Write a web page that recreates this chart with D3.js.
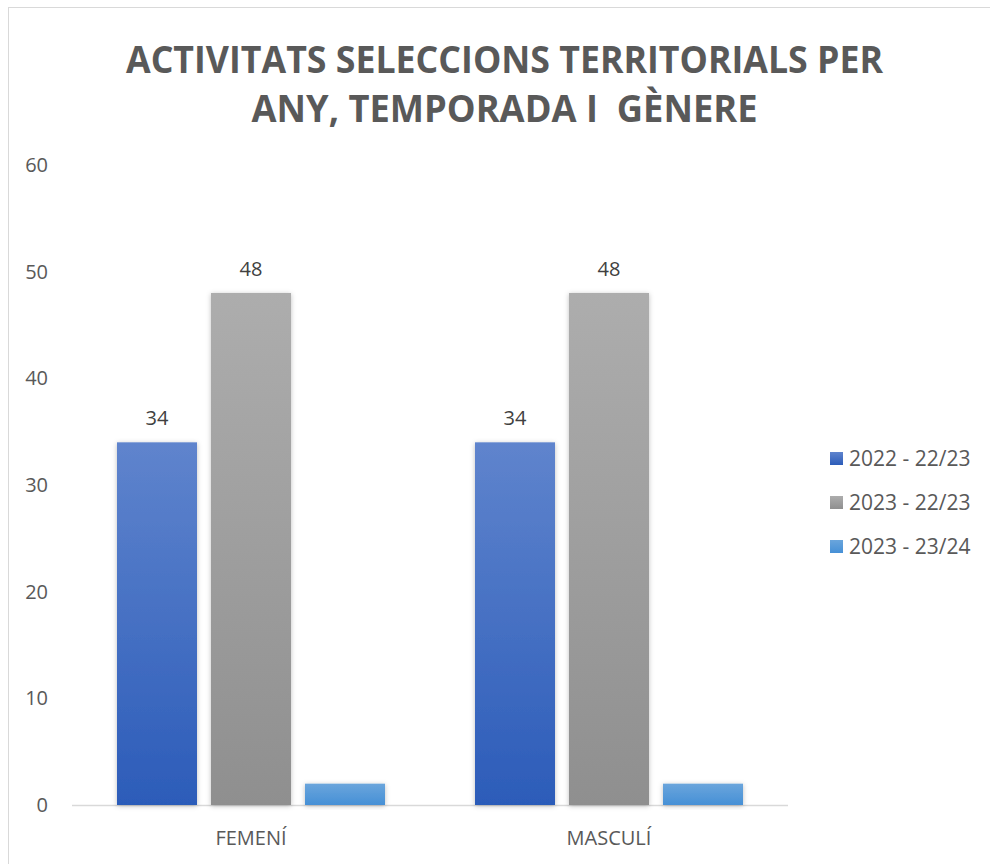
<!DOCTYPE html>
<html><head><meta charset="utf-8">
<script src="https://cdn.jsdelivr.net/npm/d3@7"></script>
<style>body{margin:0;background:#fff}svg{display:block}</style>
</head><body>
<script>
const categories = ["FEMENÍ", "MASCULÍ"];
const seriesNames = ["2022 - 22/23", "2023 - 22/23", "2023 - 23/24"];
const values2022_2223 = [34, 34];
const values2023_2223 = [48, 48];
const values2023_2324 = [2, 2];
const showLabel = [true, true, false];
const yTicks = [0, 10, 20, 30, 40, 50, 60];
const titleLines = ["ACTIVITATS SELECCIONS TERRITORIALS PER", "ANY, TEMPORADA I  GÈNERE"];

const seriesValues = [values2022_2223, values2023_2223, values2023_2324];
const gradients = [["#5f84cd", "#2c5cb9"], ["#adadad", "#8f8f8f"], ["#6aa5dc", "#4690d6"]];

const W = 990, H = 864;
const svg = d3.select("body").append("svg").attr("width", W).attr("height", H);
const defs = svg.append("defs");
gradients.forEach((g, i) => {
  const lg = defs.append("linearGradient").attr("id", "g" + i).attr("x1", 0).attr("y1", 0).attr("x2", 0).attr("y2", 1);
  lg.append("stop").attr("offset", "0%").attr("stop-color", g[0]);
  lg.append("stop").attr("offset", "100%").attr("stop-color", g[1]);
});
const f = defs.append("filter").attr("id", "sh").attr("x", "-20%").attr("y", "-20%").attr("width", "140%").attr("height", "140%");
f.append("feDropShadow").attr("dx", 0).attr("dy", 1).attr("stdDeviation", 2.5).attr("flood-color", "#000").attr("flood-opacity", 0.25);

svg.append("rect").attr("x", 8.5).attr("y", 7.5).attr("width", W + 20).attr("height", H + 20)
  .attr("fill", "#fff").attr("stroke", "#d9d9d9").attr("stroke-width", 1);

const titleWidths = [757, 506];
titleLines.forEach((t, i) => {
  svg.append("text").attr("x", 504.5).attr("y", 73 + i * 49).attr("text-anchor", "middle")
    .attr("font-family", "'Liberation Sans Narrow','Open Sans',sans-serif").attr("font-weight", "bold")
    .attr("font-size", 37).attr("fill", "#595959").style("white-space", "pre")
    .attr("textLength", titleWidths[i]).attr("lengthAdjust", "spacingAndGlyphs").text(t);
});

const x0 = 72, x1 = 788;
const y = d3.scaleLinear().domain([0, 60]).range([805, 165]);
const xc = d3.scaleBand().domain(categories).range([x0, x1]).paddingInner(0).paddingOuter(0);
const xs = d3.scaleBand().domain(d3.range(seriesNames.length)).range([0, 268]).paddingInner(14 / 94).paddingOuter(0);
const groupOffset = (xc.bandwidth() - 268) / 2;

// y axis labels
const yAxis = d3.axisLeft(y).tickValues(yTicks).tickSize(0).tickPadding(0);
const ya = svg.append("g").attr("transform", "translate(48,0)").call(yAxis);
ya.select(".domain").remove();
ya.selectAll("text").attr("font-family", "'Open Sans',sans-serif").attr("font-size", 20).attr("fill", "#595959");

// baseline
svg.append("line").attr("x1", x0).attr("x2", x1).attr("y1", y(0) + 0.5).attr("y2", y(0) + 0.5)
  .attr("stroke", "#d9d9d9").attr("stroke-width", 1.5);

// bars
seriesValues.forEach((vals, si) => {
  const g = svg.append("g");
  g.selectAll("rect").data(categories).join("rect")
    .attr("x", (c) => xc(c) + groupOffset + xs(si))
    .attr("y", (c, i) => y(vals[i]))
    .attr("width", xs.bandwidth())
    .attr("height", (c, i) => y(0) - y(vals[i]))
    .attr("fill", `url(#g${si})`).attr("filter", "url(#sh)");
  if (showLabel[si]) {
    g.selectAll("text").data(categories).join("text")
      .attr("x", (c) => xc(c) + groupOffset + xs(si) + xs.bandwidth() / 2)
      .attr("y", (c, i) => y(vals[i]) - 17)
      .attr("text-anchor", "middle").attr("font-family", "'Open Sans',sans-serif")
      .attr("font-size", 20).attr("fill", "#404040").text((c, i) => vals[i]);
  }
});

// x axis labels
const xAxis = d3.axisBottom(xc).tickSize(0).tickPadding(0);
const xa = svg.append("g").attr("transform", `translate(0,${y(0) + 40})`).call(xAxis);
xa.select(".domain").remove();
xa.selectAll("text").attr("font-family", "'Open Sans',sans-serif").attr("font-size", 20).attr("fill", "#595959").attr("dy", 0);

// legend
const lg = svg.append("g").attr("transform", "translate(830,452)");
seriesNames.forEach((n, i) => {
  const row = lg.append("g").attr("transform", `translate(0,${i * 44})`);
  row.append("rect").attr("width", 13).attr("height", 13).attr("fill", `url(#g${i})`);
  row.append("text").attr("x", 19).attr("y", 14).attr("font-family", "'Open Sans',sans-serif")
    .attr("font-size", 21).attr("fill", "#595959").text(n);
});
</script>
</body></html>
